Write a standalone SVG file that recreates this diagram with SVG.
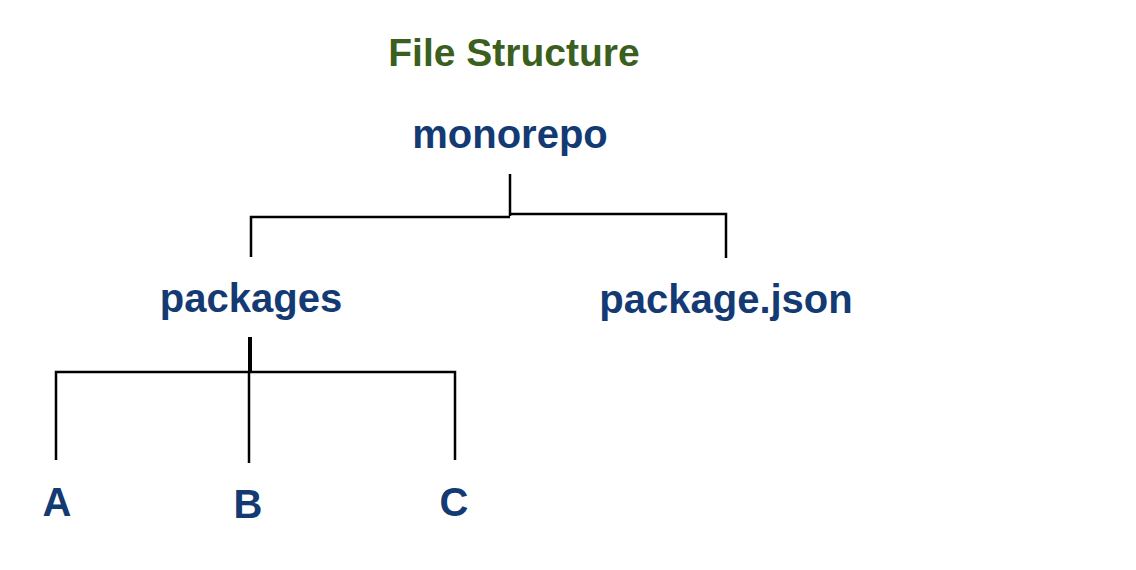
<svg xmlns="http://www.w3.org/2000/svg" width="1136" height="570" viewBox="0 0 1136 570">
<style>
.t{font-family:"Liberation Sans",Arial,Helvetica,sans-serif;font-weight:bold;font-size:40px;text-anchor:middle;fill:#143a73}
.title{fill:#3b5f1e;font-size:39px}
.c{stroke:#000;stroke-width:2.5;fill:none}
.thick{stroke-width:4}
</style>
<rect width="1136" height="570" fill="#fff"/>
<g id="title"><text class="t title" x="514" y="66">File Structure</text></g>
<g id="monorepo"><text class="t" x="510" y="148">monorepo</text></g>
<g id="packages"><text class="t" x="251" y="312">packages</text></g>
<g id="package-json"><text class="t" x="726" y="313">package.json</text></g>
<g id="A"><text class="t" x="57" y="516">A</text></g>
<g id="B"><text class="t" x="248" y="518">B</text></g>
<g id="C"><text class="t" x="454" y="516">C</text></g>
<g id="connectors">
<path class="c" d="M510 174V216"/>
<path class="c" d="M251 257V217H510"/>
<path class="c" d="M510 214H726V258"/>
<path class="c thick" d="M250 337V372"/>
<path class="c" d="M56 460V372H455V460"/>
<path class="c" d="M249 372V463"/>
</g>
</svg>
